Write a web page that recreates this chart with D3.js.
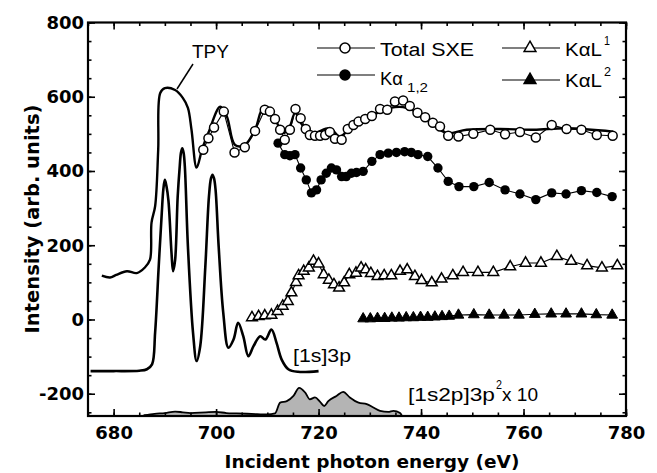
<!DOCTYPE html>
<html>
<head>
<meta charset="utf-8">
<script src="https://cdn.jsdelivr.net/npm/d3@7"></script>
<style>
body { margin: 0; background: #fff; }
</style>
</head>
<body>
<div class="chartContainer"></div>
<script>
// TPY (solid thick line)
var tpyE = [677.7, 679.3, 680.5, 682.6, 684.5, 686.1, 687.1, 687.4, 688.1, 688.7, 689.1, 690.0, 692.0, 693.5, 694.5, 695.2, 696.2, 697.3, 698.5, 700.8, 702.1, 703.7, 705.6, 707.6, 709.2, 711.2, 713.1, 714.4, 715.4, 717.0, 718.9, 722.2, 724.2, 726.8, 729.0, 732.0, 734.0, 736.5, 739.0, 742.0, 745.0, 748.9, 755.4, 762.0, 768.4, 777.5];
var tpyI = [118, 113, 120, 130, 125, 140, 161, 261, 305, 457, 610, 623, 618, 597, 570, 511, 409, 460, 503, 573, 547, 470, 470, 511, 569, 547, 502, 520, 556, 520, 503, 515, 493, 529, 540, 560, 570, 572, 560, 530, 502, 511, 513, 511, 515, 506];

// Total SXE (open circles)
var sxeE = [697.5, 698.5, 699.6, 701.5, 703.6, 705.6, 707.6, 709.5, 710.5, 711.5, 712.5, 713.4, 714.4, 715.5, 716.5, 717.5, 718.3, 719.3, 720.3, 721.3, 722.2, 723.2, 724.5, 725.7, 726.8, 727.8, 729.1, 730.4, 732.0, 733.4, 734.9, 736.5, 737.8, 739.3, 740.8, 742.3, 743.7, 745.3, 747.3, 750.2, 753.5, 756.4, 759.3, 762.4, 765.5, 768.4, 771.3, 774.3, 777.4];
var sxeI = [457, 488, 517, 560, 450, 464, 508, 565, 560, 540, 511, 484, 511, 567, 542, 513, 497, 495, 495, 497, 505, 487, 484, 513, 524, 533, 540, 548, 567, 565, 587, 590, 575, 557, 545, 530, 520, 495, 493, 500, 511, 499, 505, 490, 524, 513, 511, 497, 495];

// K alpha 1,2 (filled circles)
var kaE = [712.1, 713.4, 714.4, 715.4, 716.5, 717.6, 718.6, 719.6, 720.5, 721.5, 722.5, 723.5, 724.5, 725.4, 726.4, 727.4, 728.7, 730.4, 732.0, 733.6, 735.2, 736.8, 738.1, 739.4, 741.3, 743.3, 745.3, 747.4, 750.3, 753.3, 756.4, 759.3, 762.4, 765.5, 768.3, 771.3, 774.3, 777.3];
var kaI = [475, 444, 441, 444, 408, 376, 341, 349, 376, 394, 408, 403, 385, 385, 394, 396, 399, 426, 444, 448, 450, 452, 450, 444, 439, 408, 372, 358, 358, 369, 349, 338, 323, 341, 338, 347, 342, 331];

// K alpha L1 (open triangles)
var kal1E = [707.0, 708.3, 709.5, 710.8, 712.0, 713.0, 714.0, 714.7, 715.6, 716.1, 717.1, 718.1, 719.0, 720.0, 721.0, 722.0, 723.0, 724.0, 725.0, 726.0, 727.3, 728.3, 729.2, 730.2, 731.5, 732.8, 734.2, 735.9, 737.3, 738.8, 740.1, 742.1, 744.0, 746.2, 748.2, 751.1, 754.1, 757.4, 760.4, 763.4, 766.5, 769.3, 772.4, 775.3, 778.3];
var kal1I = [5, 8, 10, 12, 22, 36, 49, 72, 100, 118, 130, 139, 157, 150, 121, 106, 94, 85, 99, 121, 125, 139, 134, 124, 116, 118, 118, 130, 134, 116, 105, 99, 109, 118, 127, 127, 127, 142, 152, 152, 170, 157, 145, 139, 145];

// K alpha L2 (filled triangles)
var kal2E = [728.7, 730.1, 731.5, 732.9, 734.3, 735.7, 737.1, 738.5, 739.9, 741.3, 742.7, 744.1, 745.5, 747.3, 750.3, 753.3, 756.2, 759.1, 762.2, 765.4, 768.3, 771.3, 774.2, 777.3];
var kal2I = [2, 2, 3, 3, 4, 4, 5, 5, 6, 6, 7, 8, 9, 12, 13, 12, 12, 12, 14, 15, 15, 15, 13, 12];

// [1s]3p (solid thick line)
var s3pE = [675.5, 680.0, 685.0, 686.5, 687.5, 688.1, 688.8, 689.4, 689.7, 690.0, 690.3, 690.7, 691.3, 691.6, 692.0, 692.5, 692.9, 693.15, 693.4, 693.65, 693.9, 694.5, 695.5, 696.2, 696.9, 697.9, 698.6, 699.0, 699.3, 699.6, 699.9, 700.5, 701.4, 702.4, 703.4, 704.3, 705.3, 706.3, 707.3, 708.6, 709.6, 710.8, 711.8, 712.8, 714.1, 716.0, 720.0];
var s3pI = [-139, -139, -138, -134, -121, -35, 143, 287, 350, 376, 360, 320, 179, 130, 160, 330, 412, 450, 461, 450, 412, 197, -36, -112, -72, 143, 330, 380, 390, 380, 349, 197, 18, -76, -54, -9, -45, -99, -72, -45, -54, -27, -63, -108, -134, -141, -139];

// [1s2p]3p^2 x 10 (shaded)
var satE = [686.0, 688.0, 690.0, 692.0, 693.5, 695.0, 698.0, 700.0, 702.0, 704.0, 706.0, 708.0, 710.0, 711.5, 712.5, 713.8, 715.1, 716.2, 717.4, 718.3, 719.3, 720.3, 721.1, 721.9, 723.5, 724.8, 726.1, 727.8, 729.4, 730.7, 732.0, 733.6, 734.6, 735.9, 736.2];
var satI = [-258, -254, -252, -248, -250, -252, -250, -249, -252, -253, -254, -255, -256, -253, -224, -220, -206, -184, -197, -215, -210, -222, -233, -220, -206, -195, -210, -224, -228, -237, -246, -249, -246, -252, -258];

var xTicks = [680, 700, 720, 740, 760, 780];
var yTicks = [-200, 0, 200, 400, 600, 800];

var W = 657, H = 473;
var mL = 88, mR = 626, mT = 22.5, mB = 416;

var svg = d3.select(".chartContainer").append("svg")
    .attr("width", W).attr("height", H)
    .style("font-family", "'Liberation Sans', Arial, sans-serif");

var x = d3.scaleLinear().domain([675, 780]).range([mL, mR]);
var y = d3.scaleLinear().domain([-260, 800]).range([mB, mT]);

function pts(xa, ya) {
    return xa.map(function (v, i) { return [v, ya[i]]; });
}

// shaded satellite
var area = d3.area()
    .x(function (d) { return x(d[0]); })
    .y0(y(-260))
    .y1(function (d) { return y(d[1]); })
    .curve(d3.curveMonotoneX);
svg.append("path").datum(pts(satE, satI))
    .attr("d", area)
    .attr("fill", "#b4b4b4")
    .attr("stroke", "#000").attr("stroke-width", 1.8);

var smooth = d3.line()
    .x(function (d) { return x(d[0]); })
    .y(function (d) { return y(d[1]); })
    .curve(d3.curveCatmullRom.alpha(0.5));
var straight = d3.line()
    .x(function (d) { return x(d[0]); })
    .y(function (d) { return y(d[1]); });

svg.append("path").datum(pts(s3pE, s3pI))
    .attr("d", smooth).attr("fill", "none")
    .attr("stroke", "#000").attr("stroke-width", 2.6).attr("stroke-linejoin", "round");

svg.append("path").datum(pts(tpyE, tpyI))
    .attr("d", smooth).attr("fill", "none")
    .attr("stroke", "#000").attr("stroke-width", 2.4).attr("stroke-linejoin", "round");

// series lines
[[sxeE, sxeI], [kaE, kaI], [kal1E, kal1I], [kal2E, kal2I]].forEach(function (s) {
    svg.append("path").datum(pts(s[0], s[1]))
        .attr("d", straight).attr("fill", "none")
        .attr("stroke", "#000").attr("stroke-width", 1.1);
});

var tri = d3.symbol().type(d3.symbolTriangle).size(50);

// markers
svg.append("g").selectAll("path").data(pts(kal2E, kal2I)).enter().append("path")
    .attr("d", tri)
    .attr("transform", function (d) { return "translate(" + x(d[0]) + "," + y(d[1]) + ")"; })
    .attr("fill", "#000").attr("stroke", "#000").attr("stroke-width", 1);

svg.append("g").selectAll("path").data(pts(kal1E, kal1I)).enter().append("path")
    .attr("d", tri)
    .attr("transform", function (d) { return "translate(" + x(d[0]) + "," + y(d[1]) + ")"; })
    .attr("fill", "#fff").attr("stroke", "#000").attr("stroke-width", 1.5);

svg.append("g").selectAll("circle").data(pts(kaE, kaI)).enter().append("circle")
    .attr("cx", function (d) { return x(d[0]); })
    .attr("cy", function (d) { return y(d[1]); })
    .attr("r", 4.7).attr("fill", "#000");

svg.append("g").selectAll("circle").data(pts(sxeE, sxeI)).enter().append("circle")
    .attr("cx", function (d) { return x(d[0]); })
    .attr("cy", function (d) { return y(d[1]); })
    .attr("r", 4.5).attr("fill", "#fff")
    .attr("stroke", "#000").attr("stroke-width", 1.5);

// axes (inward ticks on all four sides)
var minorX = d3.range(675, 781, 5);
var minorY = d3.range(-250, 801, 50);

function styleAxis(g) {
    g.select(".domain").remove();
    g.selectAll("line").attr("stroke", "#000").attr("stroke-width", 1.6);
}

svg.append("g").attr("transform", "translate(0," + mB + ")")
    .call(d3.axisBottom(x).tickValues(minorX).tickSize(-3.5).tickFormat(""))
    .call(styleAxis);
svg.append("g").attr("transform", "translate(0," + mT + ")")
    .call(d3.axisTop(x).tickValues(minorX).tickSize(-3.5).tickFormat(""))
    .call(styleAxis);
svg.append("g").attr("transform", "translate(" + mL + ",0)")
    .call(d3.axisLeft(y).tickValues(minorY).tickSize(-3.5).tickFormat(""))
    .call(styleAxis);
svg.append("g").attr("transform", "translate(" + mR + ",0)")
    .call(d3.axisRight(y).tickValues(minorY).tickSize(-3.5).tickFormat(""))
    .call(styleAxis);

var plainNum = function (d) { return String(d); };

var xAxis = svg.append("g").attr("transform", "translate(0," + mB + ")")
    .call(d3.axisBottom(x).tickValues(xTicks).tickSize(-7).tickPadding(10).tickFormat(plainNum))
    .call(styleAxis);
svg.append("g").attr("transform", "translate(0," + mT + ")")
    .call(d3.axisTop(x).tickValues(xTicks).tickSize(-7).tickFormat(""))
    .call(styleAxis);
var yAxis = svg.append("g").attr("transform", "translate(" + mL + ",0)")
    .call(d3.axisLeft(y).tickValues(yTicks).tickSize(-7).tickPadding(4).tickFormat(plainNum))
    .call(styleAxis);
svg.append("g").attr("transform", "translate(" + mR + ",0)")
    .call(d3.axisRight(y).tickValues(yTicks).tickSize(-7).tickFormat(""))
    .call(styleAxis);

[xAxis, yAxis].forEach(function (a) {
    a.selectAll("text")
        .attr("fill", "#000")
        .style("font-family", "'DejaVu Sans', sans-serif")
        .style("font-weight", "bold")
        .style("font-size", "18px");
});

svg.append("rect")
    .attr("x", mL).attr("y", mT)
    .attr("width", mR - mL).attr("height", mB - mT)
    .attr("fill", "none").attr("stroke", "#000").attr("stroke-width", 2.2);

// axis titles
svg.append("text")
    .attr("x", 372).attr("y", 468)
    .attr("text-anchor", "middle")
    .style("font-family", "'DejaVu Sans', sans-serif")
    .style("font-weight", "bold").style("font-size", "18.5px")
    .text("Incident photon energy (eV)");

svg.append("text")
    .attr("transform", "translate(39,219) rotate(-90)")
    .attr("text-anchor", "middle")
    .style("font-family", "'DejaVu Sans', sans-serif")
    .style("font-weight", "bold").style("font-size", "19.5px")
    .text("Intensity (arb. units)");

// annotations
function label(tx, ty, str, len, size) {
    return svg.append("text")
        .attr("x", tx).attr("y", ty)
        .attr("textLength", len).attr("lengthAdjust", "spacingAndGlyphs")
        .style("font-size", size + "px")
        .attr("fill", "#000")
        .text(str);
}

label(192, 58, "TPY", 37, 19);
svg.append("line")
    .attr("x1", 193).attr("y1", 64).attr("x2", 177).attr("y2", 89)
    .attr("stroke", "#000").attr("stroke-width", 1.5);

label(293, 362, "[1s]3p", 58, 19);

label(408, 401, "[1s2p]3p", 87, 19);
label(496, 389, "2", 6, 12);
label(502, 401, "x 10", 36, 19);

// legend
function legendSym(cx, cy, kind) {
    svg.append("line")
        .attr("x1", cx - 28).attr("x2", cx + 30).attr("y1", cy).attr("y2", cy)
        .attr("stroke", "#000").attr("stroke-width", 1.2);
    if (kind === "oc" || kind === "fc") {
        svg.append("circle").attr("cx", cx).attr("cy", cy).attr("r", 5)
            .attr("fill", kind === "oc" ? "#fff" : "#000")
            .attr("stroke", "#000").attr("stroke-width", 1.5);
    } else {
        svg.append("path").attr("d", d3.symbol().type(d3.symbolTriangle).size(60))
            .attr("transform", "translate(" + cx + "," + cy + ")")
            .attr("fill", kind === "ot" ? "#fff" : "#000")
            .attr("stroke", "#000").attr("stroke-width", 1.5);
    }
}

legendSym(345, 48, "oc");
label(380, 56, "Total SXE", 94, 18);
legendSym(345, 75, "fc");
label(380, 85, "K\u03b1", 23, 18);
label(407, 92, "1,2", 21, 12);

legendSym(530, 48, "ot");
label(565, 56, "K\u03b1L", 37, 18);
label(604, 45, "1", 6, 12);
legendSym(530, 80, "ft");
label(565, 87, "K\u03b1L", 37, 18);
label(604, 76, "2", 7, 12);
</script>
</body>
</html>
